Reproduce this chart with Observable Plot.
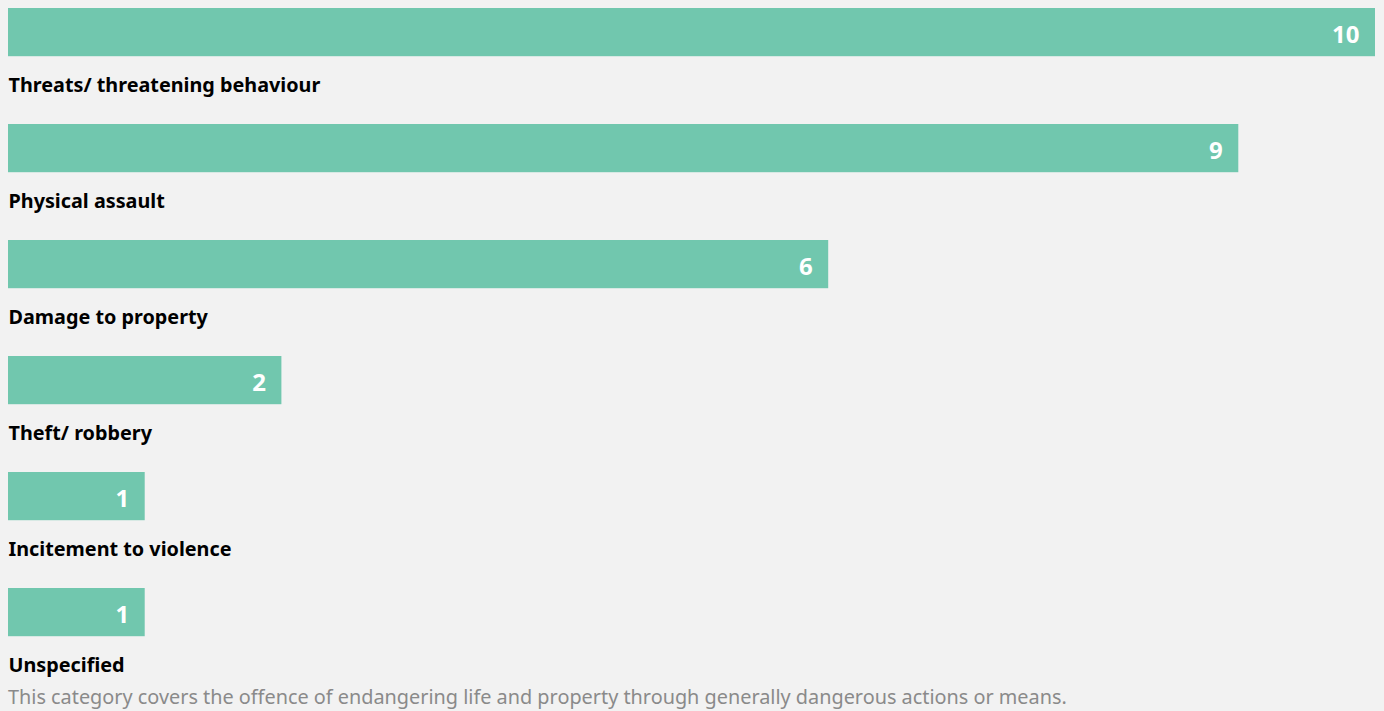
<!DOCTYPE html>
<html>
<head>
<meta charset="utf-8">
<script src="https://cdn.jsdelivr.net/npm/d3@7"></script>
<script src="https://cdn.jsdelivr.net/npm/@observablehq/plot@0.6"></script>
<style>
  html, body { margin: 0; padding: 0; background: #f2f2f2; width: 1384px; height: 711px; overflow: hidden; }
  #chart { position: absolute; left: 0; top: 0; }
  #note { position: absolute; left: 8px; top: 683px; font-family: "Noto Sans", sans-serif; font-size: 19.85px; color: #8a8a8a; white-space: nowrap; }
</style>
</head>
<body>
<div id="chart"></div>
<div id="note"></div>
<script>
const categories = ["Threats/ threatening behaviour", "Physical assault", "Damage to property", "Theft/ robbery", "Incitement to violence", "Unspecified"];
const values = [10, 9, 6, 2, 1, 1];
const footnote = "This category covers the offence of endangering life and property through generally dangerous actions or means.";

const data = categories.map((c, i) => ({category: c, value: values[i]}));
const band = 116.3;

const chart = Plot.plot({
  width: 1384,
  height: 683,
  margin: 0,
  style: {background: "transparent", fontFamily: "'Noto Sans', sans-serif"},
  x: {domain: [0, 10], range: [8, 1375], axis: null},
  y: {domain: categories, range: [7, 7 + band * 6], padding: 0, axis: null},
  marks: [
    Plot.barX(data, {x: "value", y: "category", fill: "#71c7ae", insetBottom: band - 48.5}),
    Plot.text(data, {x: "value", y: "category", text: d => String(d.value), textAnchor: "end", dx: -16, dy: -31, fill: "white", fontWeight: "bold", fontSize: 24}),
    Plot.text(data, {x: 0, y: "category", text: "category", textAnchor: "start", dy: 19, fill: "#000", fontWeight: "bold", fontSize: 19.8})
  ]
});
document.getElementById("chart").appendChild(chart);
document.getElementById("note").textContent = footnote;
</script>
</body>
</html>
